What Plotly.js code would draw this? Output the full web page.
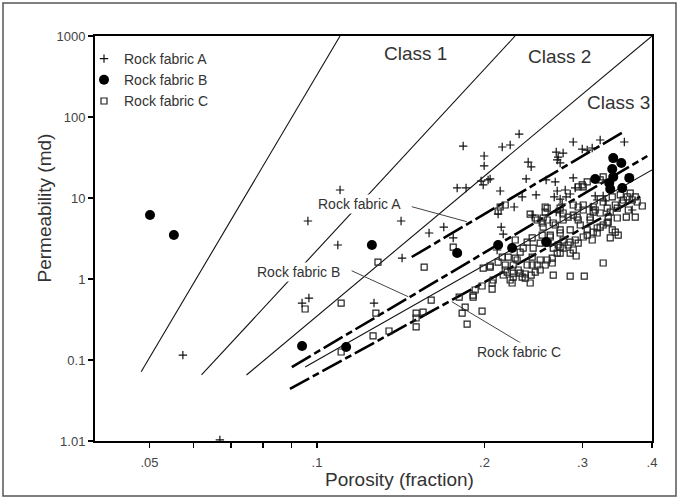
<!DOCTYPE html>
<html>
<head>
<meta charset="utf-8">
<script src="https://cdn.plot.ly/plotly-3.0.1.min.js"></script>
<style>
  html, body { margin: 0; padding: 0; background: #ffffff; }
  #chart { width: 678px; height: 498px; }
</style>
</head>
<body>
<div id="chart"></div>
<script>
// ---- Data (porosity fraction, permeability md) ----
const fabricA = [
  [0.0574,0.115],[0.0669,0.0103],[0.094,0.505],[0.0967,0.582],[0.0963,5.2],[0.110,12.55],
  [0.109,2.63],[0.1266,0.505],[0.1416,5.2],[0.1422,1.815],[0.159,3.70],[0.169,4.38],
  [0.1757,3.21],[0.1786,13.3],[0.1853,13.3],[0.1831,43.8],[0.2308,61.6],[0.2152,42.6],
  [0.2224,45.1],[0.1997,33.0],[0.1997,24.9],[0.2047,17.2],[0.1972,16.2],[0.2396,27.8],
  [0.2426,24.2],[0.2376,17.2],[0.2134,12.2],[0.2476,10.9],[0.2261,7.74],[0.2116,6.34],
  [0.2143,4.38],[0.2581,16.7],[0.2691,36.9],[0.2713,32.0],[0.2702,29.5],[0.2887,49.1],
  [0.3059,39.1],[0.3123,41.4],[0.3228,52.0],[0.3567,49.1],[0.268,15.8],[0.2702,12.2],
  [0.2669,10.3],[0.2735,9.71],[0.2793,12.55],[0.2887,17.7],[0.2911,13.3],[0.2803,10.3],
  [0.2758,8.43],[0.3162,10.6],[0.3268,10.6],[0.3188,9.45],[0.2735,6.53],[0.2436,6.16],
  [0.2337,10.3],[0.2997,40.2],[0.2769,35.9],[0.2735,27.1],[0.2161,3.59],[0.2107,2.28],
  [0.311,7.74],[0.3296,9.19],[0.3685,7.11],[0.203,16.7],[0.1989,14.5],[0.2851,11.2],
  [0.2691,6.71]
];
const fabricB = [
  [0.0501,6.17],[0.0553,3.49],[0.094,0.149],[0.1255,2.63],[0.1128,0.145],[0.1786,2.09],
  [0.2116,2.63],[0.2242,2.41],[0.2581,2.86],[0.3162,17.2],[0.3407,31.1],[0.3523,27.1],
  [0.3393,22.8],[0.3407,18.2],[0.3351,15.3],[0.3365,12.9],[0.3537,13.3],[0.3641,17.7]
];
const fabricC = [
  [0.0952,0.426],[0.1105,0.505],[0.1105,0.1255],[0.1261,0.198],[0.1347,0.228],[0.1276,0.380],
  [0.1287,1.62],[0.1558,1.405],[0.1507,0.380],[0.1551,0.391],[0.1507,0.330],[0.1507,0.256],
  [0.1604,0.550],[0.1757,2.48],[0.1801,0.599],[0.1823,0.380],[0.1846,0.450],[0.1861,0.278],
  [0.1908,0.599],[0.1924,0.731],[0.198,0.402],[0.198,0.819],[0.2064,0.752],[0.2064,0.892],
  [0.2047,1.405],[0.2161,1.12],[0.2179,1.291],[0.2242,0.892],[0.2252,1.185],[0.2252,1.488],
  [0.2289,1.716],[0.2152,1.867],[0.2318,1.185],[0.2367,1.152],[0.2416,0.892],[0.2426,1.119],
  [0.2436,1.488],[0.2487,1.488],[0.2518,1.716],[0.2592,1.716],[0.2647,1.575],[0.2658,1.119],
  [0.2851,1.088],[0.3022,1.088],[0.2922,1.922],[0.3268,1.575],[0.2735,2.09],[0.2851,2.09],
  [0.3842,7.97],[0.3596,5.82],[0.3732,5.82],[0.1989,1.366],[0.2179,8.19],[0.2116,6.91],
  [0.2571,7.74],[0.2571,6.71],[0.2487,5.35],[0.2549,5.66],[0.2947,13.7],[0.3009,13.7],
  [0.3059,15.8],[0.3268,18.2],[0.3228,16.7],[0.3508,10.9],[0.3552,9.45],[0.3611,10.3],
  [0.3655,11.5],[0.3685,9.45],[0.3732,10.3],[0.2887,8.19],[0.2947,7.74],[0.3009,8.19],
  [0.3136,6.71],[0.2271,3.03],[0.2271,1.815],[0.2318,2.15],[0.2299,1.291],[0.2337,1.057],
  [0.2386,1.488],[0.2436,1.867],[0.2518,1.291],[0.2647,1.815],[0.2702,2.09],[0.2735,2.48],
  [0.2769,3.03],[0.2827,2.63],[0.2887,2.28],[0.2947,2.78],[0.3009,3.30],[0.3059,4.03],
  [0.3123,3.03],[0.3188,3.70],[0.3228,4.38],[0.3323,4.91],[0.3393,4.03],[0.3464,5.66],
  [0.3365,6.71],[0.3097,5.35],[0.2972,4.64],[0.2851,4.03],[0.2735,3.70],[0.2625,3.30],
  [0.2518,2.78],[0.2446,2.41],[0.2549,4.38],[0.2658,4.91],[0.2769,5.35],[0.2887,6.16],
  [0.3009,7.11],[0.3136,7.74],[0.3268,8.92],[0.3393,10.3],[0.3626,7.11],[0.3464,7.52],
  [0.3337,5.82],[0.2047,1.447],[0.2197,1.219],[0.2224,0.972],[0.2073,0.972],[0.2769,2.41],
  [0.2851,2.86],[0.2911,3.03],[0.3059,3.49],[0.3136,3.80],[0.3188,4.26],[0.3268,4.64],
  [0.3337,5.05],[0.3436,3.80],[0.3478,3.49],[0.3365,3.21],[0.2769,6.53],[0.2827,5.82],
  [0.2947,5.35],[0.3097,5.82],[0.3162,7.11],[0.3228,6.53],[0.3323,7.52],[0.3436,8.19],
  [0.3537,8.68],[0.3762,8.92],[0.2134,7.74],[0.2416,6.34],[0.2592,7.52],[0.2935,5.82],
  [0.2997,14.5],[0.2735,7.52],[0.1908,0.634],[0.2116,1.62],[0.2252,1.057],[0.2367,1.028],
  [0.2467,1.219],[0.2571,1.488],[0.2603,2.78],[0.2658,2.41],[0.2713,2.63],[0.2539,3.49],
  [0.2625,3.49],[0.2467,5.66],[0.2539,4.91],[0.2592,5.35],[0.268,4.64],[0.2735,4.03],
  [0.2436,3.21],[0.2386,2.86],[0.2347,2.41],[0.2206,1.867],[0.2179,1.488]
];

// Class boundary lines (thin solid): endpoints [porosity], [permeability]
const classLine1X = [0.0483, 0.110],  classLine1Y = [0.0717, 1000];
const classLine2X = [0.0620, 0.2270], classLine2Y = [0.0653, 1000];
const classLine3X = [0.0747, 0.400],  classLine3Y = [0.0653, 1000];
const classLine4X = [0.0952, 0.400],  classLine4Y = [0.0819, 22.2];

// Rock-fabric fit lines (thick dash-dot)
const fitAX = [0.148, 0.3552],  fitAY = [1.869, 65.3];
const fitBX = [0.0901, 0.3923], fitBY = [0.0819, 33.0];
const fitCX = [0.0894, 0.381],  fitCY = [0.0439, 10.38];

// Leader lines from labels to fit lines
const leaderAX = [0.148, 0.1859],  leaderAY = [7.81, 5.10];
const leaderBX = [0.1154, 0.1459], leaderBY = [1.265, 0.604];
const leaderCX = [0.1747, 0.2344], leaderCY = [0.524, 0.1563];

// Tick labels
const xTickVals = [0.05, 0.06, 0.07, 0.08, 0.09, 0.1, 0.2, 0.3, 0.4];
const xTickText = ['.05', '', '', '', '', '.1', '.2', '.3', '.4'];
const yTickVals = [0.01, 0.1, 1, 10, 100, 1000];
const yTickText = ['1.01', '0.1', '1', '10', '100', '1000'];

// ---- Build traces ----
const FONT = 'Liberation Sans, Arial, Helvetica, sans-serif';
function thinLine(x, y) {
  return { x: x, y: y, mode: 'lines', type: 'scatter', showlegend: false, hoverinfo: 'skip',
           line: { color: '#111', width: 1.1 } };
}
function fitLine(x, y) {
  return { x: x, y: y, mode: 'lines', type: 'scatter', showlegend: false, hoverinfo: 'skip',
           line: { color: '#000', width: 2.6, dash: '22px,4px,7px,4px' } };
}
function leader(x, y) {
  return { x: x, y: y, mode: 'lines', type: 'scatter', showlegend: false, hoverinfo: 'skip',
           line: { color: '#444', width: 1 } };
}

const traces = [
  thinLine(classLine1X, classLine1Y),
  thinLine(classLine2X, classLine2Y),
  thinLine(classLine3X, classLine3Y),
  thinLine(classLine4X, classLine4Y),
  fitLine(fitAX, fitAY),
  fitLine(fitBX, fitBY),
  fitLine(fitCX, fitCY),
  leader(leaderAX, leaderAY),
  leader(leaderBX, leaderBY),
  leader(leaderCX, leaderCY),
  { name: 'Rock fabric C', legendrank: 3, type: 'scatter', mode: 'markers',
    x: fabricC.map(p => p[0]), y: fabricC.map(p => p[1]),
    marker: { symbol: 'square-open', size: 6, color: '#222', line: { width: 1.2, color: '#222' } } },
  { name: 'Rock fabric A', legendrank: 1, type: 'scatter', mode: 'markers',
    x: fabricA.map(p => p[0]), y: fabricA.map(p => p[1]),
    marker: { symbol: 'cross-thin', size: 6, color: '#111', line: { width: 1.2, color: '#111' } } },
  { name: 'Rock fabric B', legendrank: 2, type: 'scatter', mode: 'markers',
    x: fabricB.map(p => p[0]), y: fabricB.map(p => p[1]),
    marker: { symbol: 'circle', size: 10, color: '#000' } }
];

// plot area in px: left 95, right 652, top 36, bottom 441
const L = 95, R = 652, T = 36, B = 441;
const px = v => (v - L) / (R - L);
const py = v => (B - v) / (B - T);

function label(text, xpx, ypx, size, bg) {
  return { text: text, xref: 'paper', yref: 'paper', x: px(xpx), y: py(ypx),
           xanchor: 'center', yanchor: 'middle', showarrow: false,
           font: { family: FONT, size: size, color: '#333' },
           bgcolor: bg ? '#ffffff' : 'rgba(0,0,0,0)', borderpad: 1 };
}

const layout = {
  width: 678, height: 498, autosize: false,
  margin: { l: L, r: 678 - R, t: T, b: 498 - B },
  paper_bgcolor: '#ffffff', plot_bgcolor: '#ffffff',
  font: { family: FONT, color: '#444', size: 13 },
  showlegend: true,
  legend: { x: px(84), y: py(43), xanchor: 'left', yanchor: 'top',
            bgcolor: 'rgba(0,0,0,0)', borderwidth: 0, tracegroupgap: 0,
            font: { family: FONT, size: 14, color: '#333' } },
  xaxis: { type: 'log', range: [Math.log10(0.0399), Math.log10(0.4)],
           tickvals: xTickVals, ticktext: xTickText, ticks: 'outside', ticklen: 5,
           tickwidth: 1.5, tickcolor: '#000', showgrid: false, zeroline: false,
           showline: true, linewidth: 2, linecolor: '#000', mirror: true,
           tickfont: { family: FONT, size: 13, color: '#444' }, ticklabelstandoff: 3 },
  yaxis: { type: 'log', range: [-2, 3],
           tickvals: yTickVals, ticktext: yTickText, ticks: 'outside', ticklen: 5,
           tickwidth: 1.5, tickcolor: '#000', showgrid: false, zeroline: false,
           showline: true, linewidth: 2, linecolor: '#000', mirror: true,
           tickfont: { family: FONT, size: 13, color: '#444' } },
  annotations: [
    label('Class 1', 415, 54, 19, false),
    label('Class 2', 559.5, 56, 19, false),
    label('Class 3', 618, 102, 19, false),
    label('Rock fabric A', 359, 204, 14, true),
    label('Rock fabric B', 298.5, 271.5, 14, true),
    label('Rock fabric C', 519, 352, 14, true),
    { text: 'Porosity (fraction)', xref: 'paper', yref: 'paper', x: px(399), y: py(479),
      xanchor: 'center', yanchor: 'middle', showarrow: false,
      font: { family: FONT, size: 19, color: '#333' } },
    { text: 'Permeability (md)', xref: 'paper', yref: 'paper', x: px(44), y: py(208.5),
      xanchor: 'center', yanchor: 'middle', showarrow: false, textangle: -90,
      font: { family: FONT, size: 19, color: '#333' } }
  ],
  shapes: [
    { type: 'rect', xref: 'paper', yref: 'paper', x0: px(3), x1: px(676), y0: py(496), y1: py(3),
      line: { color: '#555', width: 1.5 }, fillcolor: 'rgba(0,0,0,0)', layer: 'below' }
  ]
};

Plotly.newPlot('chart', traces, layout, { displayModeBar: false, staticPlot: true });
</script>
</body>
</html>
